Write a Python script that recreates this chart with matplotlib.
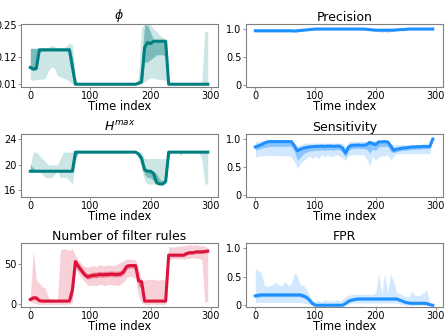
import numpy as np
import matplotlib
matplotlib.use("Agg")
import matplotlib.pyplot as plt

time_index = list(range(0, 300, 5))

# ---- phi ----
phi_med = [0.078, 0.072, 0.075] + [0.15] * 10 + [0.15, 0.08, 0.01] + [0.01] * 20 + \
    [0.014, 0.02, 0.16, 0.18, 0.175, 0.185, 0.185, 0.185, 0.185, 0.185] + [0.01] * 14
phi_lo1 = [0.03, 0.025, 0.03, 0.03, 0.03, 0.035, 0.065, 0.08, 0.075, 0.045, 0.04, 0.035, 0.03, 0.02, 0.01,
           0.008] + [0.008] * 20 + [0.01, 0.012, 0.02, 0.03, 0.035, 0.035, 0.03, 0.03, 0.03, 0.025] + \
    [0.008] + [0.008] * 13
phi_hi1 = [0.158, 0.158, 0.158, 0.158, 0.158, 0.158, 0.16, 0.168, 0.163, 0.158, 0.158, 0.158, 0.165, 0.178,
           0.17, 0.04, 0.012] + [0.012] * 18 + \
    [0.014, 0.04, 0.24, 0.255, 0.255, 0.25, 0.235, 0.225, 0.21, 0.2, 0.19, 0.03, 0.012] + [0.012] * 9 + \
    [0.012, 0.225, 0.225]
phi_lo2 = [0.07, 0.065, 0.068, 0.14] + [0.145] * 9 + [0.14, 0.05, 0.01] + [0.01] * 21 + \
    [0.015, 0.1, 0.1, 0.11, 0.12, 0.13, 0.13, 0.13, 0.12, 0.01] + [0.01] * 13
phi_hi2 = [0.155, 0.155, 0.155] + [0.155] * 10 + [0.16, 0.12, 0.012] + [0.011] * 21 + \
    [0.1, 0.25, 0.25, 0.22, 0.19] + [0.19] * 4 + [0.011] + [0.011] * 13

# ---- H^max ----
h_med = [19] * 15 + [22] + [22] * 20 + [21.7, 21, 19.2, 19, 19, 18.6, 17.2, 17, 17, 17.4] + [22] + [22] * 13
h_lo1 = [19, 19, 19, 19, 18.5, 18, 18, 18, 18.5, 19, 18, 18, 18, 17.5, 17, 20.5] + [22] * 20 + \
    [21, 19.5, 17.5, 17, 17, 17, 16.9, 16.9, 16.9, 17] + [21, 22, 22, 22, 21.5, 22] + [22] * 5 + [21, 17, 17]
h_hi1 = [20, 22, 22, 21.5, 21, 20.5, 20, 20, 20, 20, 21, 22] + [22] * 26 + [21] * 8 + [22] * 14
h_lo2 = [19] * 15 + [21] + [22] * 20 + [21.5, 20.5, 18.5, 18, 18, 17.5, 17, 17, 17, 17.2] + [22] + [22] * 13
h_hi2 = [20, 19.5] + [19] * 12 + [20, 22] + [22] * 20 + \
    [22, 21.5, 19.8, 19.2, 19, 19, 18.6, 17.8, 17.5, 17.8] + [22] + [22] * 13

# ---- Number of filter rules ----
n_med = [6, 8, 8, 4.5, 4] + [4] * 9 + \
    [18, 53, 47, 42, 37, 34, 35, 36, 36, 37, 36.5, 37, 37, 37.5, 37, 37, 37.5] + \
    [40, 47, 48, 48, 48, 29, 28] + [4] + [4] * 7 + [61] + [61] * 5 + [63, 64, 64, 65, 65, 65, 65.5, 66]
n_lo1 = [3, 2, 0.5] + [0] * 11 + \
    [2, 44, 38, 33, 28, 24, 23, 24, 23, 25, 24, 23, 25, 24, 24, 23, 25, 28, 33, 35, 34, 32, 10, 2] + \
    [0] * 8 + [54, 56, 57, 56, 57, 56, 57, 57, 58, 57, 57, 56, 3, 3]
n_hi1 = [10, 66, 30, 26, 22, 20, 8, 5, 5, 6, 67, 69, 68, 67, 69, 60] + \
    [55, 50, 47, 46, 47, 48, 47, 49, 48, 48, 49, 48, 48, 50, 52, 54, 56, 56, 56, 55] + \
    [45, 30, 30, 31, 31, 31, 30, 30, 31, 30] + \
    [72, 71, 71, 72, 72, 73, 73, 74, 73, 74, 73, 73, 72, 70]
n_lo2 = [4, 6, 5, 3] + [3] * 10 + \
    [10, 47, 42, 38, 34, 31, 32, 33, 33, 34, 33.5, 34, 34, 34.5, 34, 34, 34.5] + \
    [37, 43, 45, 45, 44, 22, 20] + [3] + [3] * 7 + [59] + [59] * 5 + [61, 62, 62, 63, 63, 63, 63.5, 64]
n_hi2 = [8, 10, 10, 6, 5] + [5] * 9 + \
    [28, 56, 51, 46, 41, 38, 39, 40, 40, 41, 40.5, 41, 41, 41.5, 41, 41, 42] + \
    [46, 50, 50, 50, 50, 33, 30] + [5] + [5] * 7 + [63] + [63] * 5 + [65, 66, 66, 67, 67, 67, 67.5, 68]

# ---- Precision ----
p_med = [0.97] * 13 + [0.965, 0.97, 0.975, 0.98, 0.985, 0.99, 0.995] + [1.0] * 17 + \
    [0.995, 0.99, 0.985] + [0.98] * 7 + [0.985, 0.99, 0.99, 0.995] + [1.0] * 9
p_lo1 = [0.945] * 13 + [0.94, 0.945, 0.955, 0.965, 0.975, 0.98, 0.99] + [0.995] * 17 + \
    [0.985, 0.975, 0.965, 0.96, 0.955, 0.93, 0.955, 0.93, 0.955, 0.96, 0.97, 0.975, 0.98, 0.985] + [0.99] * 9
p_hi1 = [0.985] * 13 + [0.98, 0.985, 0.99, 0.995] + [1.0] * 43
p_lo2 = [0.96] * 13 + [0.955, 0.96, 0.965, 0.97, 0.977, 0.983, 0.99] + [0.998] * 17 + \
    [0.99, 0.983, 0.977] + [0.97] * 7 + [0.977, 0.983, 0.983, 0.99] + [0.993] * 9
p_hi2 = [0.978] * 13 + [0.973, 0.978, 0.983, 0.988, 0.993, 0.997, 1.0] + [1.0] * 40

# ---- Sensitivity ----
s_med = [0.86, 0.88, 0.9, 0.93, 0.95] + [0.955] * 8 + \
    [0.88, 0.79, 0.82, 0.84, 0.85, 0.86, 0.865, 0.87, 0.87, 0.875, 0.87, 0.875, 0.875, 0.87, 0.875, 0.875,
     0.84, 0.75, 0.86, 0.89, 0.89, 0.895, 0.89, 0.89, 0.9, 0.94, 0.92, 0.9, 0.95, 0.95, 0.955, 0.95, 0.88,
     0.8, 0.82, 0.83, 0.84, 0.845, 0.85, 0.86, 0.86, 0.865, 0.865, 0.87, 0.87, 0.87, 1.0]
s_lo1 = [0.67, 0.7, 0.7, 0.71, 0.7, 0.71, 0.7, 0.71, 0.7, 0.71, 0.7, 0.7, 0.68, 0.6, 0.48, 0.56, 0.62, 0.66,
         0.7, 0.65, 0.7, 0.64, 0.72, 0.68, 0.72, 0.68, 0.7, 0.72, 0.7, 0.66, 0.63, 0.7, 0.72, 0.72, 0.72,
         0.72, 0.72, 0.65, 0.52, 0.7, 0.62, 0.68, 0.7, 0.7, 0.72, 0.62, 0.7] + [0.74] * 12 + [1.0]
s_hi1 = [0.95, 0.96] + [0.97] * 11 + [0.93, 0.88, 0.9, 0.92] + [0.93] * 12 + [0.92, 0.86, 0.95] + \
    [0.96] * 6 + [0.97] * 7 + [0.92] + [0.9] * 13 + [1.0]
s_lo2 = [0.8, 0.82, 0.84, 0.85, 0.86] + [0.87] * 8 + \
    [0.78, 0.62, 0.68, 0.74, 0.77, 0.79, 0.79, 0.8, 0.8, 0.81, 0.8, 0.81, 0.81, 0.8, 0.81, 0.81, 0.76,
     0.68, 0.8, 0.83, 0.83, 0.84, 0.83, 0.83, 0.82, 0.75, 0.82, 0.8, 0.86, 0.87, 0.87, 0.87, 0.78, 0.76,
     0.78, 0.79, 0.8, 0.8, 0.81, 0.82, 0.82, 0.82, 0.82, 0.83, 0.83, 0.83, 1.0]
s_hi2 = [0.89, 0.91, 0.93, 0.95, 0.96] + [0.965] * 8 + \
    [0.9, 0.82, 0.85, 0.87, 0.88, 0.89, 0.89, 0.9, 0.9, 0.9, 0.9, 0.9, 0.9, 0.9, 0.9, 0.9, 0.87, 0.8, 0.9,
     0.92, 0.92, 0.92, 0.92, 0.92, 0.93, 0.96, 0.95, 0.94, 0.96, 0.96, 0.965, 0.96, 0.9, 0.84, 0.85, 0.86,
     0.86, 0.87, 0.87, 0.88, 0.88, 0.88, 0.88, 0.89, 0.89, 0.89, 1.0]

# ---- FPR ----
f_med = [0.165, 0.175] + [0.18] * 14 + [0.16, 0.14, 0.09, 0.03] + [0.0] * 10 + [0.03, 0.07, 0.09, 0.1] + \
    [0.11] * 14 + [0.09, 0.07, 0.05, 0.04] + [0.035] * 5 + [0.03, 0.01, 0.0]
f_lo1 = [0.04] + [0.05] * 15 + [0.04, 0.03, 0.01] + [0.0] * 11 + [0.005, 0.02] + [0.04] * 16 + \
    [0.02, 0.01] + [0.0] * 10
f_hi1 = [0.64, 0.6, 0.57, 0.35, 0.33, 0.34, 0.37, 0.4, 0.34, 0.35, 0.42, 0.33, 0.38, 0.57, 0.5, 0.35, 0.35,
         0.28, 0.17, 0.08, 0.07, 0.09, 0.06, 0.1, 0.07, 0.09, 0.07, 0.1, 0.08, 0.1, 0.15, 0.17] + [0.19] * 8 + \
    [0.22, 0.55, 0.2, 0.55, 0.22, 0.55, 0.4, 0.22, 0.2, 0.18, 0.15, 0.15, 0.25, 0.18, 0.17, 0.18, 0.22,
     0.27, 0.05, 0.0]
f_lo2 = [0.13, 0.14] + [0.15] * 14 + [0.13, 0.11, 0.06, 0.01] + [0.0] * 10 + [0.015, 0.05, 0.07, 0.08] + \
    [0.09] * 14 + [0.07, 0.05, 0.03, 0.02] + [0.015] * 5 + [0.01, 0.0, 0.0]
f_hi2 = [0.2, 0.21] + [0.215] * 14 + [0.2, 0.17, 0.12, 0.05] + [0.01] * 10 + [0.05, 0.09, 0.11, 0.12] + \
    [0.13] * 14 + [0.11, 0.09, 0.07, 0.06] + [0.055] * 5 + [0.05, 0.03, 0.0]

TEAL = "#008080"
BLUE = "#1E90FF"
RED = "#DC143C"

W, H = 446, 331
fig = plt.figure(figsize=(W / 100, H / 100), dpi=100)


def make_ax(x0, y0, x1, y1):
    return fig.add_axes([x0 / W, 1 - y1 / H, (x1 - x0) / W, (y1 - y0) / H])


panels = [
    ((20.7, 24, 218, 86.7), r"$\phi$", phi_med, phi_lo1, phi_hi1, phi_lo2, phi_hi2, TEAL,
     (0.0, 0.255), [0.01, 0.12, 0.25], ["0.01", "0.12", "0.25"]),
    ((245.7, 24, 443, 86.7), "Precision", p_med, p_lo1, p_hi1, p_lo2, p_hi2, BLUE,
     (-0.025, 1.09), [0, 0.5, 1.0], ["0", "0.5", "1.0"]),
    ((20.7, 134, 218, 196.7), r"$H^{max}$", h_med, h_lo1, h_hi1, h_lo2, h_hi2, TEAL,
     (15.0, 24.85), [16, 20, 24], ["16", "20", "24"]),
    ((245.7, 134, 443, 196.7), "Sensitivity", s_med, s_lo1, s_hi1, s_lo2, s_hi2, BLUE,
     (-0.025, 1.09), [0, 0.5, 1.0], ["0", "0.5", "1.0"]),
    ((20.7, 242.7, 218, 306.7), "Number of filter rules", n_med, n_lo1, n_hi1, n_lo2, n_hi2, RED,
     (-3.0, 76.4), [0, 50], ["0", "50"]),
    ((245.7, 242.7, 443, 306.7), "FPR", f_med, f_lo1, f_hi1, f_lo2, f_hi2, BLUE,
     (-0.025, 1.09), [0, 0.5, 1.0], ["0", "0.5", "1.0"]),
]

for box, title, med, lo1, hi1, lo2, hi2, col, ylim, yt, ytl in panels:
    ax = make_ax(*box)
    ax.fill_between(time_index, lo1, hi1, color=col, alpha=0.2, linewidth=0)
    ax.fill_between(time_index, lo2, hi2, color=col, alpha=0.4, linewidth=0)
    ax.plot(time_index, med, color=col, linewidth=2.2)
    ax.set_xlim(-16, 312)
    ax.set_ylim(*ylim)
    ax.set_xticks([0, 100, 200, 300])
    ax.set_yticks(yt)
    ax.set_yticklabels(ytl)
    ax.set_title(title, fontsize=9, pad=2)
    ax.set_xlabel("Time index", fontsize=8.3, labelpad=-0.5)
    ax.tick_params(labelsize=7, length=2, width=0.6, color="0.5", pad=1)
    for s in ax.spines.values():
        s.set_color("0.5")
        s.set_linewidth(0.8)

fig.savefig("out.png", dpi=100)
